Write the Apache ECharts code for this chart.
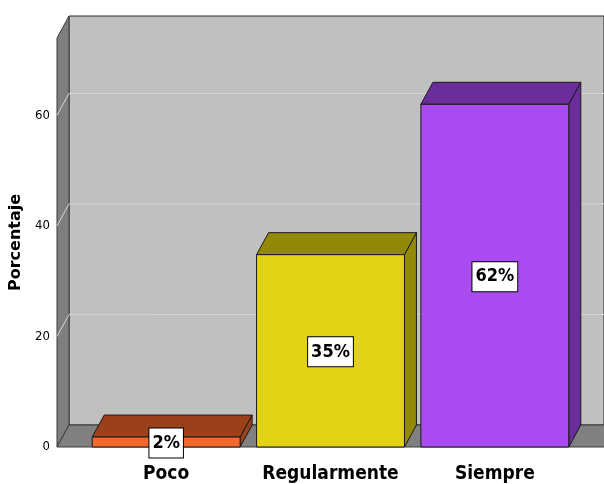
<!DOCTYPE html>
<html>
<head>
<meta charset="utf-8">
<script src="https://cdn.jsdelivr.net/npm/echarts@6/dist/echarts.min.js"></script>
<style>html,body{margin:0;padding:0;background:#fff}#main{width:604px;height:484px}</style>
</head>
<body>
<div id="main"></div>
<script>
// datos
var categorias = ['Poco', 'Regularmente', 'Siempre'];
var porcentajes = [1.8, 34.8, 62.0];
var etiquetas = ['2%', '35%', '62%'];
var ticksY = [0, 20, 40, 60];
var maxY = 74;

var colorFrente = ['#F2692B', '#E2D414', '#AA4BF1'];
var colorSombra = ['#9A4119', '#928908', '#6B2D99'];
var DX = 12, DY = -22;   // profundidad 3D
var narrow = '"DejaVu Sans Condensed", "Liberation Sans Narrow", sans-serif';

var myChart = echarts.init(document.getElementById('main'));

function renderItem(params, api) {
  var i = api.value(0);
  var v = api.value(1);
  var top = api.coord([i, v]);
  var base = api.coord([i, 0]);
  var w = api.size([1, 0])[0] * 0.9;
  var x0 = top[0] - w / 2, x1 = top[0] + w / 2, yt = top[1], yb = base[1];
  var borde = {stroke: '#1a1a1a', lineWidth: 1};
  return {
    type: 'group',
    children: [
      {type: 'polygon', shape: {points: [[x1, yt], [x1 + DX, yt + DY], [x1 + DX, yb + DY], [x1, yb]]},
        style: Object.assign({fill: colorSombra[i]}, borde)},
      {type: 'polygon', shape: {points: [[x0, yt], [x1, yt], [x1 + DX, yt + DY], [x0 + DX, yt + DY]]},
        style: Object.assign({fill: colorSombra[i]}, borde)},
      {type: 'rect', shape: {x: x0, y: yt, width: w, height: yb - yt},
        style: Object.assign({fill: colorFrente[i]}, borde)},
      {type: 'text', x: top[0], y: (yt + yb) / 2 + 1, z2: 10,
        style: {
          text: etiquetas[i], align: 'center', verticalAlign: 'middle',
          font: 'bold 18px ' + narrow, fill: '#000',
          backgroundColor: '#fff', borderColor: '#000', borderWidth: 1,
          padding: [6, 3, 5, 3]
        }}
    ]
  };
}

var option = {
  animation: false,
  grid: {left: 84, right: 27, top: 38, bottom: 31},
  xAxis: {
    type: 'category',
    data: categorias,
    axisLine: {show: false},
    axisTick: {show: false},
    axisLabel: {interval: 0, margin: 18, color: '#000', fontSize: 19, fontWeight: 'bold', fontFamily: narrow}
  },
  yAxis: {
    type: 'value',
    min: 0,
    max: maxY,
    interval: 20,
    name: 'Porcentaje',
    nameLocation: 'middle',
    nameGap: 60,
    nameTextStyle: {color: '#000', fontSize: 16, fontWeight: 'bold', fontFamily: '"DejaVu Sans", sans-serif'},
    axisLine: {show: false},
    axisTick: {show: false},
    splitLine: {show: false},
    axisLabel: {margin: 34, color: '#000', fontSize: 13, fontFamily: narrow, showMaxLabel: false}
  },
  series: [{
    type: 'custom',
    z: 5,
    renderItem: renderItem,
    data: porcentajes.map(function (v, i) { return [i, v]; })
  }]
};
myChart.setOption(option, true);

// paredes y piso del grafico 3D
var y0 = myChart.convertToPixel({yAxisIndex: 0}, 0);
var yMax = myChart.convertToPixel({yAxisIndex: 0}, maxY);
var xL = 57, xR = 604;
var paredes = [
  {type: 'rect', z: 1, shape: {x: xL + DX, y: yMax + DY, width: xR - xL - DX, height: y0 - yMax},
    style: {fill: '#C0C0C0', stroke: '#2a2a2a', lineWidth: 1}},
  {type: 'polygon', z: 1, shape: {points: [[xL, y0], [xL, yMax], [xL + DX, yMax + DY], [xL + DX, y0 + DY]]},
    style: {fill: '#7E7E7E', stroke: '#3a3a3a', lineWidth: 1}},
  {type: 'polygon', z: 1, shape: {points: [[xL, y0], [xL + DX, y0 + DY], [xR + 2, y0 + DY], [xR + 2, y0]]},
    style: {fill: '#808080', stroke: '#3a3a3a', lineWidth: 1}}
];
ticksY.slice(1).forEach(function (t) {
  var y = myChart.convertToPixel({yAxisIndex: 0}, t);
  paredes.push({type: 'polyline', z: 2, shape: {points: [[xL, y], [xL + DX, y + DY], [xR + 2, y + DY]]},
    style: {stroke: '#D6D6D6', lineWidth: 1, fill: null}});
});
myChart.setOption({graphic: paredes});
</script>
</body>
</html>
